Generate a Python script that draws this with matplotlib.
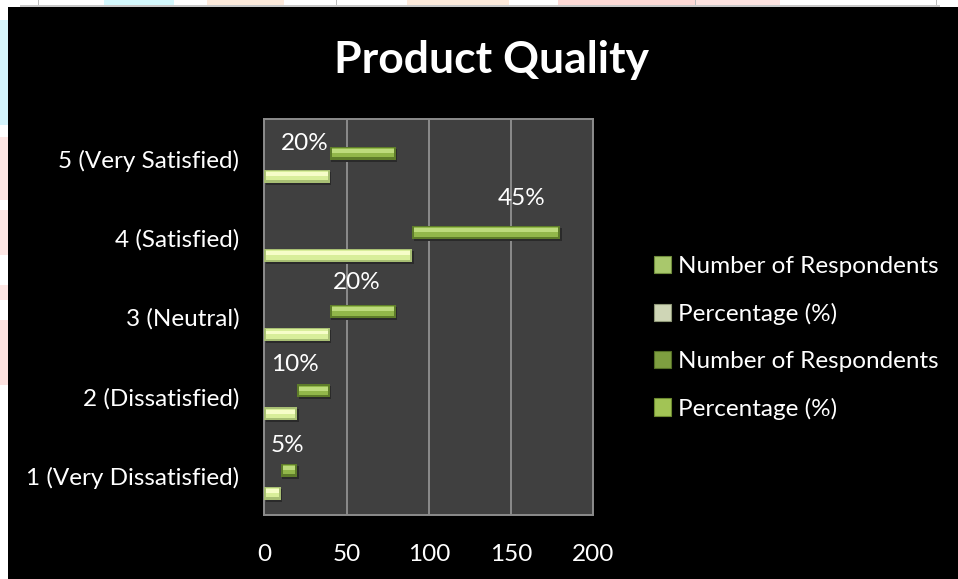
import matplotlib.pyplot as plt
from matplotlib.patches import Rectangle, Patch

# survey results
categories = ['1 (Very Dissatisfied)', '2 (Dissatisfied)', '3 (Neutral)',
              '4 (Satisfied)', '5 (Very Satisfied)']
respondents = [10, 20, 40, 90, 40]
percent = [5, 10, 20, 45, 20]
x_ticks = [0, 50, 100, 150, 200]
legend_labels = ['Number of Respondents', 'Percentage (%)',
                 'Number of Respondents', 'Percentage (%)']

# where the % labels sit (x in data units, dy above the category)
pct_label_pos = [(13.8, 0.38), (18.6, 0.40), (56.3, 0.44), (156.7, 0.50), (24.7, 0.20)]

fnt = 'Lato'
fntsz = 17.5
plt.rcParams['font.family'] = [fnt, 'DejaVu Sans']

fig = plt.figure(figsize=(9.58, 5.79), dpi=100)
fig.patch.set_facecolor('white')

# bits of the page showing round the chart
W, H = 958., 579.
def px_rect(x0, y0, x1, y1, col, z=0):
    fig.patches.append(Rectangle((x0 / W, 1 - y1 / H), (x1 - x0) / W, (y1 - y0) / H,
                                 transform=fig.transFigure, color=col, zorder=z, lw=0))
for x0, x1, col in [(104, 174, '#d4f8fd'), (207, 284, '#fdeadb'), (407, 509, '#fdeadb'),
                    (558, 695, '#fdd9d6'), (695, 780, '#fde3e0')]:
    px_rect(x0, 0, x1, 6, col)
for y0, y1, col in [(20, 60, '#d8f6fb'), (60, 125, '#d4f4fc'), (137, 200, '#fde6e4'),
                    (210, 255, '#fde6e4'), (285, 300, '#fde6e4'), (320, 385, '#fde2e0')]:
    px_rect(0, y0, 8, y1, col)
for xl in [38, 336, 695, 936]:
    px_rect(xl, 0, xl + 1.2, 6, '#bdbdbd', 1)
px_rect(20, 5, 940, 6.5, '#c8c8c8', 1)
px_rect(8, 6.5, W, H, 'black', 2)

ax = fig.add_axes([264.3 / W, 1 - 515.3 / H, 329 / W, 396 / H])
ax.set_facecolor('#404040')
ax.set_zorder(3)

bh = 0.165
y = list(range(len(categories)))

def bevel_bar(yc, left, width, dark, mid, light):
    ax.barh(yc - 0.025, width, left=left + 0.8, height=bh, color='#2a2a2a', zorder=2)
    ax.barh(yc, width, left=left, height=bh, color=dark, zorder=3)
    inset = min(1.3, width * 0.12)
    ax.barh(yc + bh * 0.05, width - 2 * inset, left=left + inset, height=bh * 0.72,
            color=mid, zorder=4)
    ax.barh(yc + bh * 0.17, width - 2 * inset, left=left + inset, height=bh * 0.3,
            color=light, zorder=5)

for i in y:
    # pale bar: respondents from zero
    bevel_bar(i - 0.22, 0, respondents[i], '#a8bf74', '#d8ee9a', '#f6fdc8')
    # green bar stacked on its end
    bevel_bar(i + 0.071, respondents[i], respondents[i], '#5e7c2a', '#92b74a', '#bddb7c')
    lx, dy = pct_label_pos[i]
    ax.text(lx, i + dy, '%d%%' % percent[i], color='white', fontsize=fntsz,
            ha='center', va='center', zorder=6)

ax.set_xlim(0, 200)
ax.set_ylim(-0.5, 4.5)
ax.set_xticks(x_ticks)
ax.set_xticklabels([str(t) for t in x_ticks])
ax.set_yticks(y)
ax.set_yticklabels(categories)
ax.xaxis.grid(True, color='#8c8c8c', linewidth=1.4, zorder=1)
ax.set_axisbelow(True)
ax.tick_params(length=0, colors='white', labelsize=fntsz)
ax.tick_params(axis='y', pad=18)
ax.tick_params(axis='x', pad=20.5)
for s in ax.spines.values():
    s.set_color('#8c8c8c')
    s.set_linewidth(1.4)

fig.text(491 / W, 1 - 60 / H, 'Product Quality', color='white', fontsize=32,
         fontweight='bold', ha='center', va='center', zorder=5)

handles = [Patch(facecolor=c, edgecolor=e, linewidth=0.8) for c, e in
           [('#a9c86c', '#6f8c3c'), ('#cfd6b6', '#8f9878'),
            ('#7e9e40', '#546e26'), ('#a2c455', '#6c8a30')]]
leg = fig.legend(handles, legend_labels, loc='upper left',
                 bbox_to_anchor=(654 / W, 1 - 256 / H), frameon=False,
                 fontsize=fntsz, labelcolor='white', handlelength=0.7, handleheight=0.7,
                 handletextpad=0.3, labelspacing=1.06, borderpad=0, borderaxespad=0)
leg.set_zorder(6)

fig.savefig('out.png', dpi=100, facecolor=fig.get_facecolor())
